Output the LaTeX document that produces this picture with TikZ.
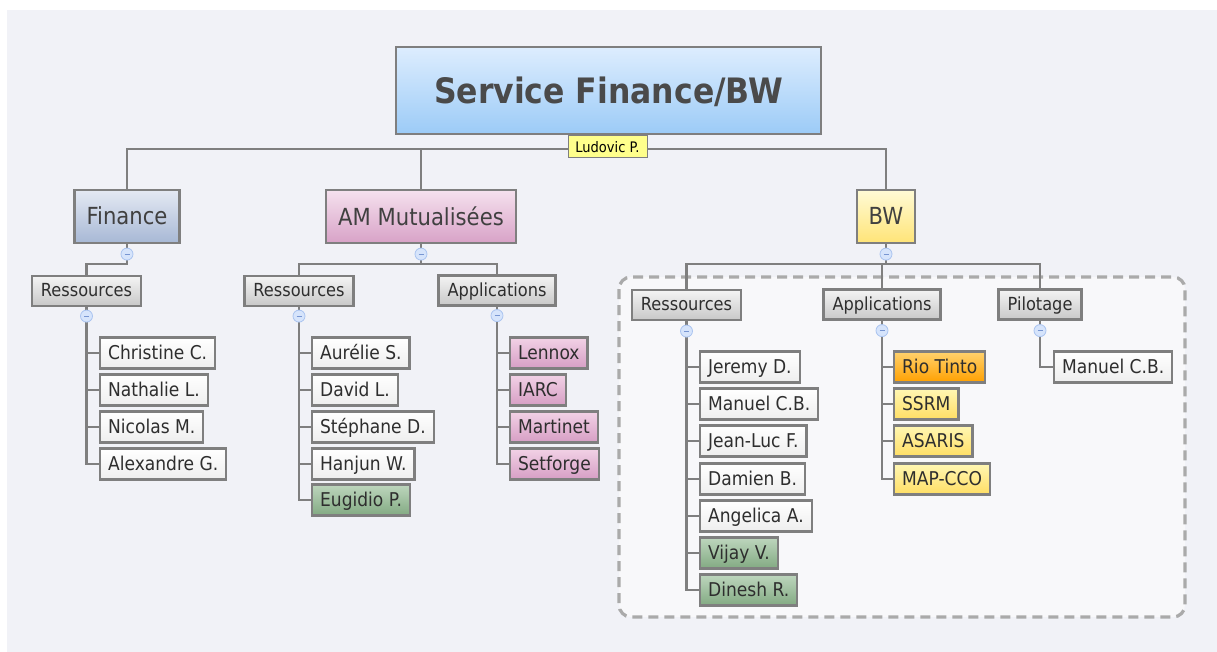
\documentclass[tikz,border=0pt]{standalone}
\usepackage{fontspec}
\setmainfont{DejaVu Sans}[FakeStretch=0.9]
\usetikzlibrary{calc}

\definecolor{bgcol}{HTML}{F1F2F7}
\definecolor{framecol}{HTML}{F8F8FA}
\definecolor{framedash}{HTML}{AAAAAA}
\definecolor{edgecol}{HTML}{7F7F7F}
\definecolor{txtcol}{HTML}{2E2E2E}
\definecolor{roottxt}{HTML}{4A4A4A}
\definecolor{topictxt}{HTML}{404040}
\definecolor{roottop}{HTML}{DDEDFE}
\definecolor{rootbot}{HTML}{9CCBF7}
\definecolor{fintop}{HTML}{E4E9F3}
\definecolor{finbot}{HTML}{A7B8D5}
\definecolor{amtop}{HTML}{F5E1EE}
\definecolor{ambot}{HTML}{D8A2C7}
\definecolor{bwtop}{HTML}{FFFBD6}
\definecolor{bwbot}{HTML}{FFE477}
\definecolor{grouptop}{HTML}{F4F4F4}
\definecolor{groupbot}{HTML}{C8C8C8}
\definecolor{leafbot}{HTML}{EEEEEE}
\definecolor{greentop}{HTML}{BED6BE}
\definecolor{greenbot}{HTML}{82AA82}
\definecolor{pinktop}{HTML}{F2D2E6}
\definecolor{pinkbot}{HTML}{D69EC4}
\definecolor{yellowtop}{HTML}{FFF7B4}
\definecolor{yellowbot}{HTML}{FFDE64}
\definecolor{orangetop}{HTML}{FFD26E}
\definecolor{orangebot}{HTML}{FFA000}
\definecolor{notecol}{HTML}{FFFF8C}
\definecolor{togglefill}{HTML}{D6E4FB}
\definecolor{toggledraw}{HTML}{AAC4F0}
\definecolor{togglebar}{HTML}{7896D2}

\tikzset{
  box/.style={draw=edgecol, line width=2.2pt, text=txtcol, inner ysep=0pt, text depth=.25ex},
  rootbox/.style={box, top color=roottop, bottom color=rootbot,
    minimum width=425pt, minimum height=87pt, font=\fontsize{35}{40}\selectfont\bfseries, text=roottxt},
  topic/.style={box, minimum height=53pt, inner xsep=12pt, font=\fontsize{23.5}{27}\selectfont, text=topictxt},
  finbox/.style={topic, top color=fintop, bottom color=finbot},
  ambox/.style={topic, top color=amtop, bottom color=ambot},
  bwbox/.style={topic, top color=bwtop, bottom color=bwbot},
  group/.style={box, minimum height=30pt, inner xsep=9pt, font=\fontsize{18}{21}\selectfont,
    top color=grouptop, bottom color=groupbot},
  leaf/.style={box, anchor=west, minimum height=31pt, inner xsep=8pt, font=\fontsize{19}{22}\selectfont,
    top color=white, bottom color=leafbot},
  greenleaf/.style={leaf, top color=greentop, bottom color=greenbot},
  pinkleaf/.style={leaf, top color=pinktop, bottom color=pinkbot},
  yellowleaf/.style={leaf, top color=yellowtop, bottom color=yellowbot},
  orangeleaf/.style={leaf, top color=orangetop, bottom color=orangebot},
  note/.style={draw=edgecol, line width=1pt, fill=notecol, minimum width=79pt,
    minimum height=22pt, inner sep=0pt, font=\fontsize{14.5}{17}\selectfont, text=black},
  link/.style={draw=edgecol, line width=2.5pt},
  toggle/.style={circle, minimum size=12pt, inner sep=0pt, fill=togglefill,
    draw=toggledraw, line width=.8pt,
    path picture={\draw[togglebar, line width=.8pt]
      ([xshift=-2.5pt]path picture bounding box.center) -- ([xshift=2.5pt]path picture bounding box.center);}},
}

\begin{document}
\begin{tikzpicture}[x=1pt, y=-1pt]
  \useasboundingbox (0,0) rectangle (1217,652);
  \fill[bgcol] (7,10) rectangle (1217,652);

  % frame round the BW part
  \draw[draw=framedash, fill=framecol, line width=3.2pt, dash pattern=on 10pt off 6pt,
    rounded corners=12pt] (619,277) rectangle (1185,617);

  % main topics
  \node[rootbox] (root) at (608.5,90.5) {Service Finance/BW};
  \node[finbox] (fin) at (127,216.5) {Finance};
  \node[ambox] (am) at (421,216.5) {AM Mutualisées};
  \node[bwbox] (bw) at (886,216.5) {BW};

  % subtopics
  \node[group] (finres) at (86.5,291) {Ressources};
  \node[group] (amres) at (299,291) {Ressources};
  \node[group] (amapp) at (497,290.5) {Applications};
  \node[group] (bwres) at (686.5,305) {Ressources};
  \node[group] (bwapp) at (882,304.5) {Applications};
  \node[group] (bwpil) at (1040,304.5) {Pilotage};

  % Finance
  \node[leaf] (christine) at (99,353) {Christine C.};
  \node[leaf] (nathalie) at (99,390) {Nathalie L.};
  \node[leaf] (nicolas) at (99,427) {Nicolas M.};
  \node[leaf] (alexandre) at (99,464) {Alexandre G.};

  % AM Mutualisees
  \node[leaf] (aurelie) at (311,353) {Aurélie S.};
  \node[leaf] (david) at (311,390) {David L.};
  \node[leaf] (stephane) at (311,427) {Stéphane D.};
  \node[leaf] (hanjun) at (311,464) {Hanjun W.};
  \node[greenleaf] (eugidio) at (311,500) {Eugidio P.};
  \node[pinkleaf] (lennox) at (509,353) {Lennox};
  \node[pinkleaf] (iarc) at (509,390) {IARC};
  \node[pinkleaf] (martinet) at (509,427) {Martinet};
  \node[pinkleaf] (setforge) at (509,464) {Setforge};

  % BW
  \node[leaf] (jeremy) at (699,367) {Jeremy D.};
  \node[leaf] (manuel) at (699,404) {Manuel C.B.};
  \node[leaf] (jeanluc) at (699,441) {Jean-Luc F.};
  \node[leaf] (damien) at (699,479) {Damien B.};
  \node[leaf] (angelica) at (699,516) {Angelica A.};
  \node[greenleaf] (vijay) at (699,553) {Vijay V.};
  \node[greenleaf] (dinesh) at (699,590) {Dinesh R.};
  \node[orangeleaf] (riotinto) at (893,367) {Rio Tinto};
  \node[yellowleaf] (ssrm) at (893,404) {SSRM};
  \node[yellowleaf] (asaris) at (893,441) {ASARIS};
  \node[yellowleaf] (mapcco) at (893,479) {MAP-CCO};
  \node[leaf] (manuelpil) at (1053,367) {Manuel C.B.};

  % links from the root
  \draw[link] (root.south) -- ++(0,14) -| (fin.north);
  \draw[link] (root.south) -- ++(0,14) -| (am.north);
  \draw[link] (root.south) -- ++(0,14) -| (bw.north);
  \node[note] (ludovic) at (607.5,147) {Ludovic P.};

  % links to the subtopics
  \draw[link] (fin.south) -- ++(0,20) -| (finres.north);
  \draw[link] (am.south) -- ++(0,20) -| (amres.north);
  \draw[link] (am.south) -- ++(0,20) -| (amapp.north);
  \draw[link] (bw.south) -- ++(0,20) -| (bwres.north);
  \draw[link] (bw.south) -- ++(0,20) -| (bwapp.north);
  \draw[link] (bw.south) -- ++(0,20) -| (bwpil.north);

  % links to the leaves
  \draw[link] (finres.south) |- (christine.west);
  \draw[link] (finres.south) |- (nathalie.west);
  \draw[link] (finres.south) |- (nicolas.west);
  \draw[link] (finres.south) |- (alexandre.west);
  \draw[link] (amres.south) |- (aurelie.west);
  \draw[link] (amres.south) |- (david.west);
  \draw[link] (amres.south) |- (stephane.west);
  \draw[link] (amres.south) |- (hanjun.west);
  \draw[link] (amres.south) |- (eugidio.west);
  \draw[link] (amapp.south) |- (lennox.west);
  \draw[link] (amapp.south) |- (iarc.west);
  \draw[link] (amapp.south) |- (martinet.west);
  \draw[link] (amapp.south) |- (setforge.west);
  \draw[link] (bwres.south) |- (jeremy.west);
  \draw[link] (bwres.south) |- (manuel.west);
  \draw[link] (bwres.south) |- (jeanluc.west);
  \draw[link] (bwres.south) |- (damien.west);
  \draw[link] (bwres.south) |- (angelica.west);
  \draw[link] (bwres.south) |- (vijay.west);
  \draw[link] (bwres.south) |- (dinesh.west);
  \draw[link] (bwapp.south) |- (riotinto.west);
  \draw[link] (bwapp.south) |- (ssrm.west);
  \draw[link] (bwapp.south) |- (asaris.west);
  \draw[link] (bwapp.south) |- (mapcco.west);
  \draw[link] (bwpil.south) |- (manuelpil.west);

  % collapse buttons
  \node[toggle] at ($(fin.south)+(0,10)$) {};
  \node[toggle] at ($(am.south)+(0,10)$) {};
  \node[toggle] at ($(bw.south)+(0,10)$) {};
  \node[toggle] at ($(finres.south)+(0,9)$) {};
  \node[toggle] at ($(amres.south)+(0,9)$) {};
  \node[toggle] at ($(amapp.south)+(0,9)$) {};
  \node[toggle] at ($(bwres.south)+(0,10)$) {};
  \node[toggle] at ($(bwapp.south)+(0,10)$) {};
  \node[toggle] at ($(bwpil.south)+(0,10)$) {};
\end{tikzpicture}
\end{document}
